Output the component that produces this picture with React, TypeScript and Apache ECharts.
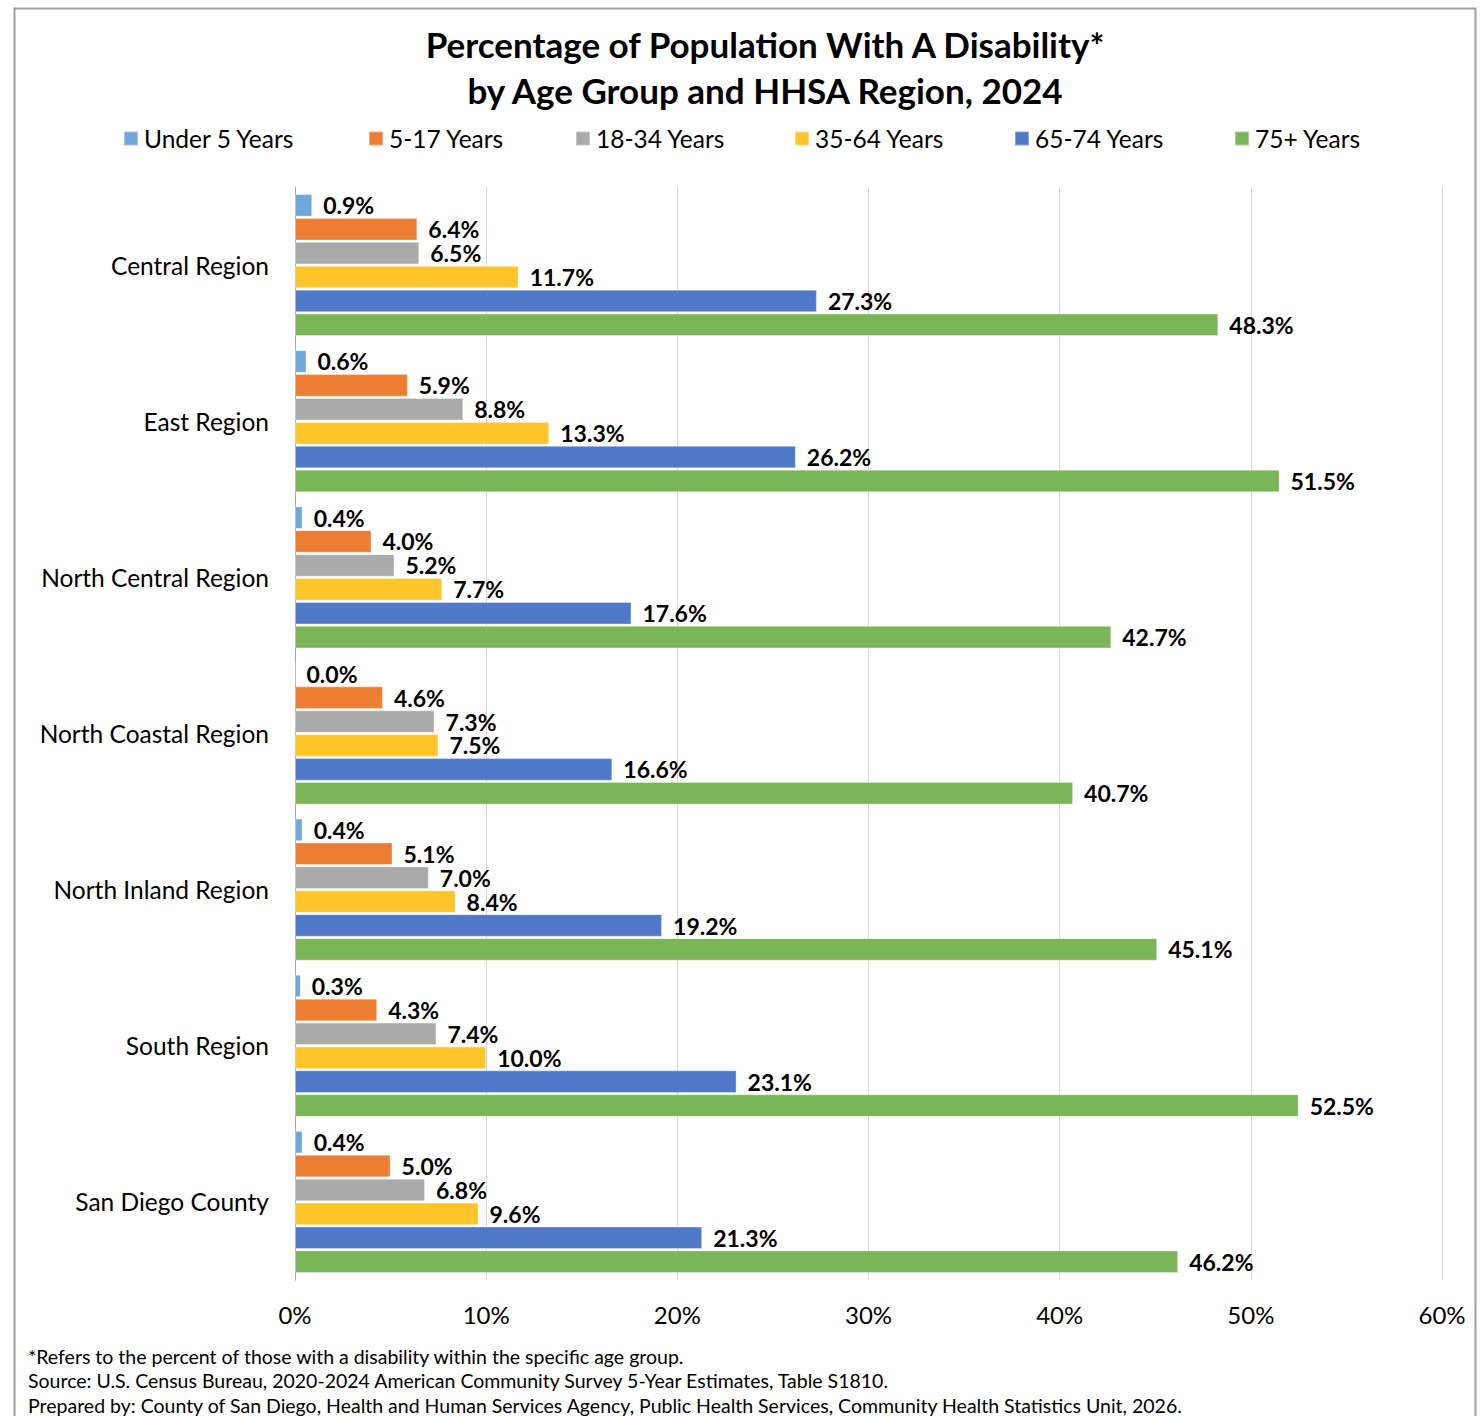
import React, { useEffect, useRef } from "react";
import * as echarts from "echarts";

const regions = [
  "Central Region",
  "East Region",
  "North Central Region",
  "North Coastal Region",
  "North Inland Region",
  "South Region",
  "San Diego County",
];
const ageGroups = ["Under 5 Years", "5-17 Years", "18-34 Years", "35-64 Years", "65-74 Years", "75+ Years"];
const under5 = [0.9, 0.6, 0.4, 0.0, 0.4, 0.3, 0.4];
const age5to17 = [6.4, 5.9, 4.0, 4.6, 5.1, 4.3, 5.0];
const age18to34 = [6.5, 8.8, 5.2, 7.3, 7.0, 7.4, 6.8];
const age35to64 = [11.7, 13.3, 7.7, 7.5, 8.4, 10.0, 9.6];
const age65to74 = [27.3, 26.2, 17.6, 16.6, 19.2, 23.1, 21.3];
const age75plus = [48.3, 51.5, 42.7, 40.7, 45.1, 52.5, 46.2];
const seriesValues = [under5, age5to17, age18to34, age35to64, age65to74, age75plus];
const colors = ["#6ea8dc", "#ed7d31", "#aaaaaa", "#ffc52b", "#5079c9", "#7ab558"];
const xTicks = [0, 10, 20, 30, 40, 50, 60];
const footnotes = [
  "*Refers to the percent of those with a disability within the specific age group.",
  "Source: U.S. Census Bureau, 2020-2024 American Community Survey 5-Year Estimates, Table S1810.",
  "Prepared by: County of San Diego, Health and Human Services Agency, Public Health Services, Community Health Statistics Unit, 2026.",
];
const legendLefts = [118, 363, 570, 789, 1009, 1229];

const FONT = "Lato, 'Open Sans', sans-serif";

export default function App() {
  const ref = useRef<HTMLDivElement>(null);
  useEffect(() => {
    if (!ref.current) return;
    const chart = echarts.init(ref.current, null, { renderer: "svg" });
    const option: any = {
      animation: false,
      backgroundColor: "#ffffff",
      textStyle: { fontFamily: FONT },
      title: {
        text: "Percentage of Population With A Disability*\nby Age Group and HHSA Region, 2024",
        left: 760,
        top: 16,
        textAlign: "center",
        textStyle: {
          fontFamily: FONT,
          fontSize: 35,
          fontWeight: "bold",
          color: "#000",
          lineHeight: 46,
        },
      },
      legend: ageGroups.map((name, i) => ({
        data: [name],
        left: legendLefts[i],
        top: 121,
        itemWidth: 14,
        itemHeight: 14,
        itemGap: 0,
        icon: "rect",
        textStyle: { fontFamily: FONT, fontSize: 24.5, color: "#000", padding: [0, 0, 0, 1] },
        selectedMode: false,
      })),
      grid: { left: 295, right: 41, top: 187, bottom: 136 },
      xAxis: {
        type: "value",
        min: 0,
        max: 60,
        interval: 10,
        axisLabel: {
          formatter: (v: number) => (xTicks.includes(v) ? v + "%" : ""),
          fontFamily: FONT,
          fontSize: 24,
          color: "#000",
          margin: 22,
        },
        axisLine: { show: false },
        axisTick: { show: false },
        splitLine: { show: true, lineStyle: { color: "#d9d9d9", width: 1 } },
      },
      yAxis: {
        type: "category",
        inverse: true,
        data: regions,
        axisLabel: { fontFamily: FONT, fontSize: 24.5, color: "#000", margin: 26 },
        axisLine: { show: true, lineStyle: { color: "#a6a6a6", width: 1 } },
        axisTick: { show: false },
      },
      series: ageGroups.map((name, i) => ({
        name,
        type: "bar",
        data: seriesValues[i],
        barGap: "6%",
        barCategoryGap: "9%",
        itemStyle: { color: colors[i], borderColor: "rgba(255,255,255,0.35)", borderWidth: 1 },
        label: {
          show: true,
          position: "right",
          distance: 11,
          formatter: (p: any) => Number(p.value).toFixed(1) + "%",
          fontFamily: FONT,
          fontSize: 23,
          lineHeight: 20,
          fontWeight: "bold",
          color: "#000",
        },
      })),
      graphic: [
        {
          type: "rect",
          shape: { x: 14.5, y: 8.5, width: 1461, height: 1430 },
          style: { fill: "none", stroke: "#a0a0a0", lineWidth: 2 },
          silent: true,
          z: 100,
        },
        ...footnotes.map((t, i) => ({
          type: "text",
          left: 28,
          top: 1346 + i * 24.5,
          style: { text: t, fontFamily: FONT, fontSize: 19.5, fill: "#000" },
        })),
      ],
    };
    chart.setOption(option);
    return () => chart.dispose();
  }, []);
  return (
    <div
      ref={ref}
      style={{ position: "absolute", left: 0, top: 0, width: 1483, height: 1416 }}
    />
  );
}
